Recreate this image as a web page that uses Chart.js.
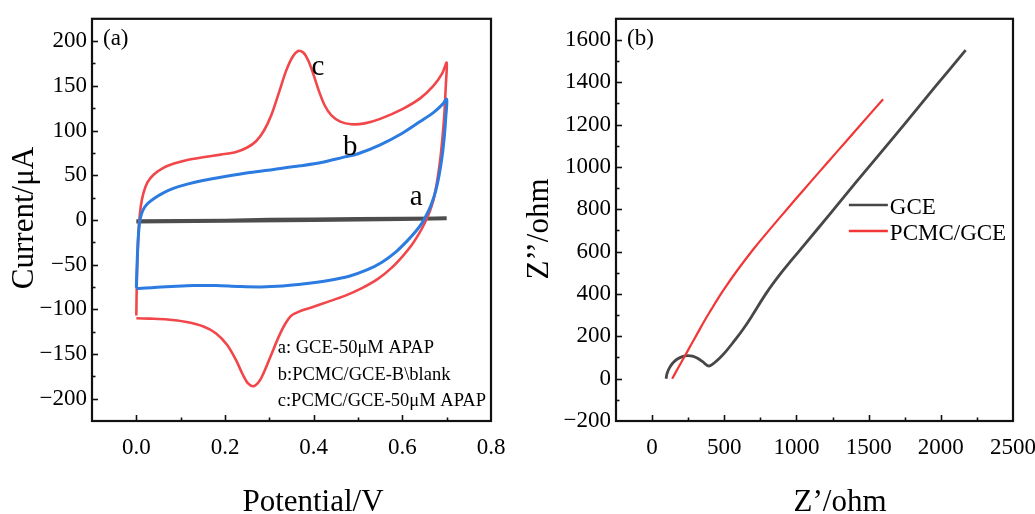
<!DOCTYPE html>
<html>
<head>
<meta charset="utf-8">
<title>CV and EIS</title>
<script src="https://cdn.jsdelivr.net/npm/chart.js@4.4.1/dist/chart.umd.min.js"></script>
<style>
  html, body { margin: 0; padding: 0; background: #fff; }
  #wrap { position: relative; width: 1035px; height: 514px; overflow: hidden; }
  #cvChart { position: absolute; left: 0; top: 0; }
  #eisChart { position: absolute; left: 517px; top: 0; }
</style>
</head>
<body>
<div id="wrap">
  <canvas id="cvChart" width="517" height="514"></canvas>
  <canvas id="eisChart" width="518" height="514"></canvas>
</div>
<script>
// (a) cyclic voltammograms: potential (V) vs current (µA), one loop per electrode
const cvLabels = ['a: GCE-50μM APAP', 'b:PCMC/GCE-B\\blank', 'c:PCMC/GCE-50μM APAP'];

const gceE = [0.000, 0.100, 0.200, 0.300, 0.400, 0.500, 0.600, 0.700, 0.600, 0.400, 0.200, 0.000];
const gceI = [-1.5, -1.2, -0.8, 0.2, 0.6, 1.0, 1.3, 1.6, 0.9, -0.2, -1.2, -2.0];

const blankE = [0.000, 0.002, 0.005, 0.009, 0.015, 0.025, 0.040, 0.060, 0.085, 0.115, 0.150, 0.200,
  0.256, 0.310, 0.370, 0.420, 0.466, 0.500, 0.550, 0.600, 0.640, 0.670, 0.690, 0.700,
  0.698, 0.695, 0.690, 0.683, 0.675, 0.665, 0.655, 0.645, 0.630, 0.610, 0.585, 0.555,
  0.520, 0.480, 0.430, 0.380, 0.330, 0.280, 0.230, 0.180, 0.130, 0.080, 0.040, 0.000];
const blankI = [-76, -45, -15, 2, 11, 18, 24, 30, 35.5, 40, 44, 48.5,
  53, 56.5, 60.5, 64.5, 70, 74, 84, 97, 110, 120, 129, 135,
  115, 95, 72, 50, 32, 17, 6, -3, -13, -24, -36, -47,
  -56, -63, -68, -71.5, -74, -75, -74.5, -73.5, -73.5, -74.5, -75.5, -77];

const apapE = [0.000, 0.001, 0.003, 0.006, 0.010, 0.016, 0.025, 0.040, 0.060, 0.085, 0.115, 0.150,
  0.190, 0.225, 0.250, 0.270, 0.288, 0.305, 0.322, 0.338, 0.352, 0.365, 0.377, 0.388,
  0.400, 0.412, 0.425, 0.440, 0.460, 0.485, 0.515, 0.550, 0.600, 0.640, 0.670, 0.690, 0.700,
  0.698, 0.695, 0.691, 0.686, 0.679, 0.670, 0.660, 0.650, 0.637, 0.620, 0.600, 0.575,
  0.545, 0.510, 0.470, 0.430, 0.395, 0.370, 0.350, 0.335, 0.320, 0.305, 0.290, 0.278,
  0.265, 0.252, 0.240, 0.225, 0.205, 0.180, 0.150, 0.110, 0.070, 0.030, 0.000];
const apapI = [-107, -70, -35, -5, 15, 30, 42, 51, 58, 63, 67, 70,
  73, 76, 81, 88, 100, 118, 143, 167, 182, 189, 187, 178,
  162, 144, 128, 117, 110, 107, 108, 113, 124, 136, 150, 164, 176,
  150, 120, 95, 70, 45, 22, 7, -4, -16, -29, -41, -54,
  -66, -76, -85, -92, -98, -102, -107, -117, -132, -150, -168, -180,
  -186, -183, -173, -157, -140, -127, -119, -114, -111.5, -110.5, -110];

// (b) Nyquist plots: Z' (ohm) vs Z'' (ohm)
const eisLabels = ['GCE', 'PCMC/GCE'];

const gceRe = [97, 102, 112, 128, 150, 178, 210, 245, 280, 315, 350, 375, 390, 405, 430, 465,
  510, 560, 629, 700, 790, 883, 970, 1053, 1230, 1403, 1580, 1753, 1960, 2172];
const gceIm = [0, 20, 40, 60, 79, 94, 104, 109, 106, 96, 80, 66, 60, 62, 74, 95,
  128, 170, 232, 305, 403, 490, 563, 631, 776, 920, 1064, 1206, 1378, 1552];

const pcmcRe = [139, 180, 225, 270, 315, 360, 410, 455, 500, 583, 700, 814, 930, 1045,
  1160, 1277, 1440, 1600];
const pcmcIm = [0, 50, 105, 160, 215, 270, 327, 377, 424, 505, 610, 704, 797, 888,
  978, 1069, 1196, 1320];

const SERIF = "'Liberation Serif', 'DejaVu Serif', serif";
Chart.defaults.font.family = SERIF;
Chart.defaults.color = '#000';

function toPoints(xs, ys) {
  return xs.map((x, i) => ({x: x, y: ys[i]}));
}

function onStep(v, step) {
  const r = v / step;
  return Math.abs(r - Math.round(r)) < 1e-6;
}

function fmtNum(v, digits) {
  const s = Math.abs(v).toFixed(digits);
  return v < 0 ? '\u2212' + s : s;
}

// frame, inward ticks, axis titles, curve letters and the in-plot legend
const panelDecor = {
  id: 'panelDecor',
  afterDraw(chart, args, o) {
    const {ctx, chartArea: a} = chart;
    const xs = chart.scales.x, ys = chart.scales.y;
    ctx.save();

    ctx.strokeStyle = '#111';
    ctx.lineWidth = 1.6;
    xs.ticks.forEach(t => {
      if (t.value <= xs.min + 1e-9 || t.value >= xs.max - 1e-9) return;
      const px = Math.round(xs.getPixelForValue(t.value)) + 0.5;
      const len = onStep(t.value, o.xMajor) ? o.majorLen : o.minorLen;
      ctx.beginPath();
      ctx.moveTo(px, a.bottom);
      ctx.lineTo(px, a.bottom - len);
      ctx.stroke();
    });
    ys.ticks.forEach(t => {
      if (t.value <= ys.min + 1e-9 || t.value >= ys.max - 1e-9) return;
      const py = Math.round(ys.getPixelForValue(t.value)) + 0.5;
      const len = onStep(t.value, o.yMajor) ? o.majorLen : o.minorLen;
      ctx.beginPath();
      ctx.moveTo(a.left, py);
      ctx.lineTo(a.left + len, py);
      ctx.stroke();
    });

    ctx.lineWidth = 2.2;
    ctx.strokeRect(a.left, a.top, a.right - a.left, a.bottom - a.top);

    ctx.fillStyle = '#000';
    ctx.textBaseline = 'alphabetic';

    // axis titles
    ctx.font = o.titleSize + 'px ' + SERIF;
    ctx.textAlign = 'center';
    ctx.fillText(o.xTitle, o.xTitleAt[0], o.xTitleAt[1]);
    ctx.save();
    ctx.translate(o.yTitleAt[0], o.yTitleAt[1]);
    ctx.rotate(-Math.PI / 2);
    ctx.fillText(o.yTitle, 0, 0);
    ctx.restore();

    // panel tag
    ctx.textAlign = 'left';
    ctx.font = '23px ' + SERIF;
    ctx.fillText(o.tag, a.left + 11, a.top + 26);

    // letters next to the curves, placed in data units
    (o.notes || []).forEach(n => {
      ctx.font = n.size + 'px ' + SERIF;
      ctx.fillText(n.text, xs.getPixelForValue(n.x), ys.getPixelForValue(n.y));
    });

    // legend built from the dataset labels
    const lg = o.legend;
    if (lg) {
      const sets = chart.data.datasets.slice().sort((p, q) => p.label.localeCompare(q.label));
      ctx.font = lg.size + 'px ' + SERIF;
      sets.forEach((ds, i) => {
        const tx = xs.getPixelForValue(lg.x);
        const ty = ys.getPixelForValue(lg.y) + i * lg.gap;
        if (lg.sample) {
          ctx.strokeStyle = ds.borderColor;
          ctx.lineWidth = 2.6;
          ctx.beginPath();
          ctx.moveTo(tx - lg.sample - 2, ty - lg.lift);
          ctx.lineTo(tx - 2, ty - lg.lift);
          ctx.stroke();
        }
        ctx.fillStyle = '#000';
        ctx.fillText(ds.label, tx, ty);
      });
    }
    ctx.restore();
  }
};

// fixed axis box sizes; edge labels may hang past the plot frame
function fixSize(prop, size) {
  return s => {
    s[prop] = size;
    s.paddingLeft = 0;
    s.paddingRight = 0;
  };
}

function axisBase(min, max, step, major, digits, pad) {
  return {
    type: 'linear',
    min: min,
    max: max,
    grid: {display: false, drawTicks: false},
    border: {display: false},
    ticks: {
      stepSize: step,
      autoSkip: false,
      maxRotation: 0,
      padding: pad,
      font: {size: 23, family: SERIF},
      color: '#000',
      callback: v => onStep(v, major) ? fmtNum(v, digits) : ''
    }
  };
}

function line(label, xs, ys, color, width, order, tension) {
  return {
    label: label,
    data: toPoints(xs, ys),
    showLine: true,
    borderColor: color,
    backgroundColor: color,
    borderWidth: width,
    pointRadius: 0,
    tension: tension,
    fill: false,
    order: order
  };
}

// ---- (a) CV panel ----
const cvX = axisBase(-0.1, 0.8, 0.1, 0.2, 1, 13);
cvX.afterFit = fixSize('height', 93);
const cvY = axisBase(-225, 225, 25, 50, 0, 5);
cvY.afterFit = s => { s.width = 92; };

new Chart(document.getElementById('cvChart'), {
  type: 'scatter',
  data: {
    datasets: [
      line(cvLabels[0], gceE, gceI, '#4d4d4d', 3.8, 3, 0),
      line(cvLabels[1], blankE, blankI, '#2b7be0', 3, 1, 0.3),
      line(cvLabels[2], apapE, apapI, '#f2474a', 2.6, 2, 0.3)
    ]
  },
  options: {
    responsive: false,
    animation: false,
    events: [],
    layout: {padding: {top: 15, right: 26, left: 0, bottom: 0}},
    scales: {x: cvX, y: cvY},
    plugins: {
      legend: {display: false},
      tooltip: {enabled: false},
      panelDecor: {
        xMajor: 0.2, yMajor: 50, majorLen: 6, minorLen: 3.5,
        xTitle: 'Potential/V', xTitleAt: [313, 511],
        yTitle: 'Current/μA', yTitleAt: [33, 218],
        titleSize: 31,
        tag: '(a)',
        notes: [
          {text: 'c', x: 0.395, y: 162, size: 29},
          {text: 'b', x: 0.466, y: 73, size: 29},
          {text: 'a', x: 0.617, y: 17, size: 29}
        ],
        legend: {x: 0.319, y: -149, gap: 26.5, size: 18.5, sample: 0}
      }
    }
  },
  plugins: [panelDecor]
});

// ---- (b) EIS panel ----
const eisX = axisBase(-250, 2500, 250, 500, 0, 13);
eisX.afterFit = fixSize('height', 93);
const eisY = axisBase(-200, 1700, 100, 200, 0, 5);
eisY.afterFit = s => { s.width = 99; };

new Chart(document.getElementById('eisChart'), {
  type: 'scatter',
  data: {
    datasets: [
      line(eisLabels[0], gceRe, gceIm, '#474747', 2.8, 2, 0.4),
      line(eisLabels[1], pcmcRe, pcmcIm, '#f23535', 2.2, 1, 0.4)
    ]
  },
  options: {
    responsive: false,
    animation: false,
    events: [],
    layout: {padding: {top: 15, right: 22, left: 0, bottom: 0}},
    scales: {x: eisX, y: eisY},
    plugins: {
      legend: {display: false},
      tooltip: {enabled: false},
      panelDecor: {
        xMajor: 500, yMajor: 200, majorLen: 6, minorLen: 3.5,
        xTitle: 'Z\u2019/ohm', xTitleAt: [323, 511],
        yTitle: 'Z\u2019\u2019/ohm', yTitleAt: [31, 229],
        titleSize: 31,
        tag: '(b)',
        legend: {x: 1647, y: 778, gap: 26, size: 23, sample: 39, lift: 9}
      }
    }
  },
  plugins: [panelDecor]
});
</script>
</body>
</html>
